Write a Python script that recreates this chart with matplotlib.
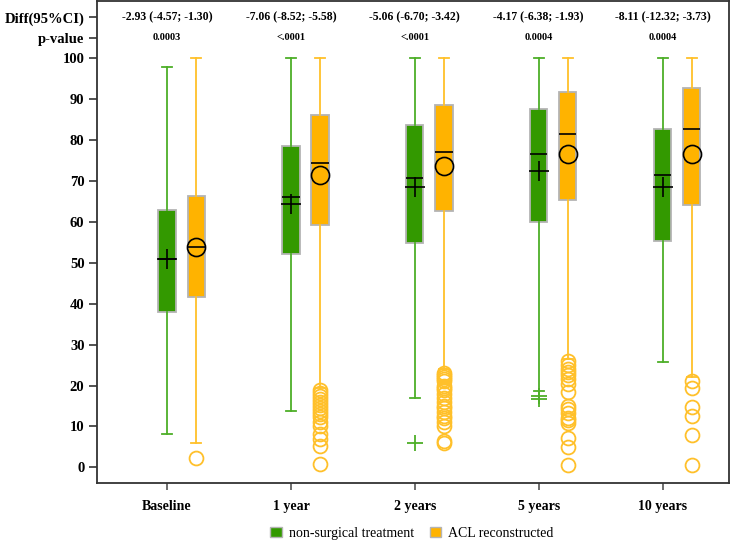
import matplotlib
matplotlib.use("Agg")
import matplotlib.pyplot as plt
from matplotlib.patches import Patch
import numpy as np

categories = ["Baseline", "1 year", "2 years", "5 years", "10 years"]
diff_labels = ["-2.93 (-4.57; -1.30)", "-7.06 (-8.52; -5.58)", "-5.06 (-6.70; -3.42)",
               "-4.17 (-6.38; -1.93)", "-8.11 (-12.32; -3.73)"]
p_labels = ["0.0003", "<.0001", "<.0001", "0.0004", "0.0004"]

# non-surgical treatment
ns_q1 = [38.1, 52.1, 54.8, 60.0, 55.3]
ns_med = [50.9, 66.1, 70.7, 76.6, 71.4]
ns_q3 = [63.0, 78.5, 83.8, 87.6, 82.7]
ns_lo = [8.1, 13.9, 17.0, 18.6, 25.8]
ns_hi = [98.0, 100, 100, 100, 100]
ns_mean = [51.0, 64.5, 68.5, 72.4, 68.6]
ns_out = [[], [], [6.0], [17.5, 16.8], []]

# ACL reconstructed
acl_q1 = [41.6, 59.3, 62.8, 65.4, 64.1]
acl_med = [53.8, 74.5, 77.0, 81.5, 82.8]
acl_q3 = [66.3, 86.2, 88.7, 91.8, 92.7]
acl_lo = [5.9, 19.5, 24.0, 26.5, 22.0]
acl_hi = [100, 100, 100, 100, 100]
acl_mean = [54.0, 71.6, 73.6, 76.6, 76.7]
acl_out = [
    [2.4],
    [18.8, 18.2, 17.5, 16.8, 16.0, 15.3, 14.5, 13.8, 13.0, 12.3, 11.0, 10.2, 8.2, 7.0, 5.3, 0.8],
    [23.0, 22.5, 22.0, 21.5, 21.0, 20.0, 19.5, 19.0, 18.0, 17.0, 16.0, 15.0, 14.5, 13.5,
     12.5, 12.0, 11.0, 10.0, 6.5, 6.0],
    [26.0, 25.0, 24.0, 23.2, 22.5, 21.5, 20.5, 18.4, 15.0, 14.2, 13.2, 12.0, 11.5, 10.8,
     7.2, 5.1, 0.6],
    [21.2, 19.4, 14.7, 12.6, 7.8, 0.6],
]

GREEN = "#339900"
ORANGE = "#FFB300"
GREEN_W = "#4DAF28"
ORANGE_W = "#FFC02A"
EDGE = "#B4B4B4"

plt.rcParams["font.family"] = ["Liberation Serif", "DejaVu Serif"]

fig = plt.figure(figsize=(7.32, 5.42), dpi=100)
ax = fig.add_axes([0.1325, 0.109, 0.864, 0.889])

x = np.arange(len(categories))
off = 0.235
bw = 0.14


def stats(q1, med, q3, lo, hi, mean, out):
    return [dict(q1=a, med=b, q3=c, whislo=d, whishi=e, mean=f, fliers=g)
            for a, b, c, d, e, f, g in zip(q1, med, q3, lo, hi, mean, out)]


def draw(st, pos, fc, wc, meanprops, flierprops):
    ax.bxp(st, positions=pos, widths=bw, patch_artist=True, showmeans=True,
           boxprops=dict(facecolor=fc, edgecolor=EDGE, linewidth=1.3),
           medianprops=dict(color="black", linewidth=1.2),
           whiskerprops=dict(color=wc, linewidth=1.3),
           capprops=dict(color=wc, linewidth=1.3),
           capwidths=0.08,
           meanprops=meanprops, flierprops=flierprops, manage_ticks=False)


draw(stats(ns_q1, ns_med, ns_q3, ns_lo, ns_hi, ns_mean, ns_out), x, GREEN, GREEN_W,
     dict(marker="+", markersize=14, markeredgecolor="black", markeredgewidth=1.2),
     dict(marker="+", markersize=12, markeredgecolor=GREEN_W, markeredgewidth=1.3))
draw(stats(acl_q1, acl_med, acl_q3, acl_lo, acl_hi, acl_mean, acl_out), x + off, ORANGE, ORANGE_W,
     dict(marker="o", markersize=13, markerfacecolor="none", markeredgecolor="black",
          markeredgewidth=1.2),
     dict(marker="o", markersize=10, markerfacecolor="none", markeredgecolor=ORANGE_W,
          markeredgewidth=1.3))

for i in range(len(categories)):
    ax.text(x[i], 110, diff_labels[i], ha="center", va="center", fontsize=8.5,
            fontweight="bold")
    ax.text(x[i], 105, p_labels[i], ha="center", va="center", fontsize=7.5,
            fontweight="bold")

ax.set_xlim(-0.566, 4.54)
ax.set_ylim(-3.8, 114)
ax.set_yticks([0, 10, 20, 30, 40, 50, 60, 70, 80, 90, 100, 105, 110])
ax.set_yticklabels(["0", "10", "20", "30", "40", "50", "60", "70", "80", "90", "100",
                    "p-value", "Diff(95%CI)"], fontweight="bold", fontsize=10.5)
ax.set_xticks(x)
ax.set_xticklabels(categories, fontweight="bold", fontsize=10)
ax.tick_params(axis="y", length=6, width=1.2, pad=3, color="#333333")
ax.tick_params(axis="x", length=5, width=1.2, pad=7, color="#555555")
for s in ax.spines.values():
    s.set_color("#333333")
    s.set_linewidth(1.3)

handles = [Patch(facecolor=GREEN, edgecolor=EDGE, label="non-surgical treatment"),
           Patch(facecolor=ORANGE, edgecolor=EDGE, label="ACL reconstructed")]
fig.legend(handles=handles, loc="center", bbox_to_anchor=(0.563, 0.016), ncol=2,
           frameon=False, fontsize=10, handlelength=0.8, handleheight=0.8,
           handletextpad=0.5, columnspacing=1.2)

fig.savefig("out.png", dpi=100)
